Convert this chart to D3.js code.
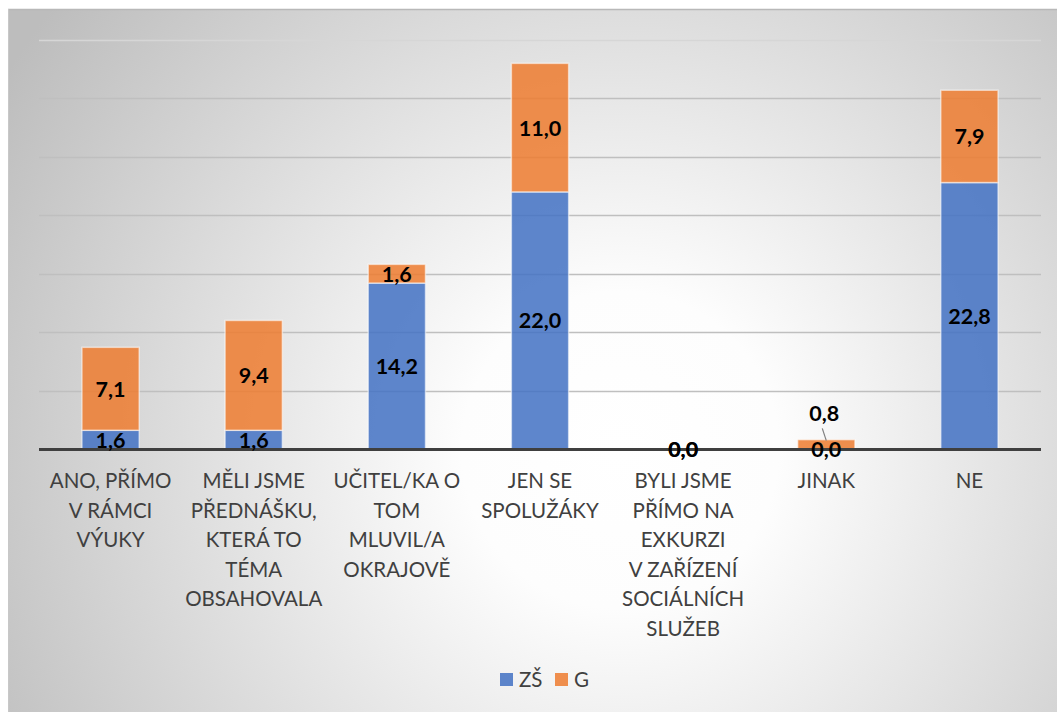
<!DOCTYPE html>
<html><head><meta charset="utf-8">
<script src="https://cdn.jsdelivr.net/npm/d3@7"></script>
<style>html,body{margin:0;padding:0;background:#fff;}svg{display:block;}</style>
</head><body>
<svg id="c" width="1057" height="712"></svg>
<script>
const categories = [
  ["ANO, PŘÍMO","V RÁMCI","VÝUKY"],
  ["MĚLI JSME","PŘEDNÁŠKU,","KTERÁ TO","TÉMA","OBSAHOVALA"],
  ["UČITEL/KA O","TOM","MLUVIL/A","OKRAJOVĚ"],
  ["JEN SE","SPOLUŽÁKY"],
  ["BYLI JSME","PŘÍMO NA","EXKURZI","V ZAŘÍZENÍ","SOCIÁLNÍCH","SLUŽEB"],
  ["JINAK"],
  ["NE"]
];
const seriesNames = ["ZŠ","G"];
const zs = [1.6, 1.6, 14.2, 22.0, 0.0, 0.0, 22.8];
const g  = [7.1, 9.4, 1.6, 11.0, 0.0, 0.8, 7.9];
const yTicks = [0,5,10,15,20,25,30,35];
const colors = ["#4472C4","#ED7D31"];

const svg = d3.select("#c");
const W = 1057, H = 712;
const defs = svg.append("defs");
const rg = defs.append("radialGradient").attr("id","bg")
  .attr("gradientUnits","userSpaceOnUse")
  .attr("cx",620).attr("cy",450).attr("r",720);
rg.append("stop").attr("offset","0%").attr("stop-color","#ffffff");
rg.append("stop").attr("offset","22%").attr("stop-color","#fdfdfd");
rg.append("stop").attr("offset","100%").attr("stop-color","#bdbdbd");

svg.append("rect").attr("x",8).attr("y",9).attr("width",W-8).attr("height",H-9)
  .attr("fill","url(#bg)");
svg.append("line").attr("x1",8).attr("x2",W).attr("y1",9.5).attr("y2",9.5)
  .attr("stroke","#b8b8b8").attr("stroke-width",1.5);
svg.append("line").attr("x1",8.5).attr("x2",8.5).attr("y1",9).attr("y2",H)
  .attr("stroke","#c8c8c8").attr("stroke-width",1);

const x = d3.scaleBand().domain(d3.range(categories.length)).range([39,1041]).paddingInner(0.6).paddingOuter(0.3);
const y = d3.scaleLinear().domain([0,35]).range([449,40]);

// gridlines
svg.append("g").selectAll("line").data(yTicks.filter(t=>t>0)).join("line")
  .attr("x1",39).attr("x2",1041)
  .attr("y1",d=>Math.round(y(d))+0.5).attr("y2",d=>Math.round(y(d))+0.5)
  .attr("stroke",d=>d===35?"#d6d6d6":"#bfbfbf").attr("stroke-width",1.5);

const stacked = d3.stack().keys([0,1]).value((d,k)=>d[k])(zs.map((v,i)=>[v,g[i]]));

const bw = x.bandwidth();
stacked.forEach((layer,k)=>{
  svg.append("g").selectAll("rect").data(layer).join("rect")
    .attr("x",(d,i)=>x(i)).attr("width",bw)
    .attr("y",d=>y(d[1])).attr("height",d=>y(d[0])-y(d[1]))
    .attr("fill",colors[k]).attr("fill-opacity",0.86)
    .attr("stroke","#ffffff").attr("stroke-opacity",0.55).attr("stroke-width",1.5);
});

// axis line
svg.append("line").attr("x1",39).attr("x2",1041).attr("y1",y(0)+0.5).attr("y2",y(0)+0.5)
  .attr("stroke","#3f3f3f").attr("stroke-width",3);

// data labels
const lab = svg.append("g").attr("font-family","Lato, 'Open Sans', sans-serif")
  .attr("font-weight","bold").attr("font-size",21.5).attr("fill","#000").attr("text-anchor","middle");
const fmt = v => v.toFixed(1).replace(".",",");
stacked.forEach((layer,k)=>{
  layer.forEach((d,i)=>{
    const v = d[1]-d[0];
    let cy = (y(d[0])+y(d[1]))/2;
    let cx = x(i)+bw/2;
    if (k===1 && v>0 && v<1) {
      const ly = cy - 31;
      svg.append("line").attr("x1",cx-4).attr("y1",ly+15).attr("x2",cx).attr("y2",y(d[1])+1)
        .attr("stroke","#7f7f7f").attr("stroke-width",1.2);
      cy = ly;
      cx = cx - 2;
    }
    lab.append("text").attr("x",cx).attr("y",cy+8).text(fmt(v));
  });
});

// category labels
const cl = svg.append("g").attr("font-family","Lato, 'Open Sans', sans-serif")
  .attr("font-size",20.5).attr("fill","#404040").attr("text-anchor","middle");
categories.forEach((lines,i)=>{
  const t = cl.append("text").attr("x",x(i)+bw/2).attr("y",488);
  lines.forEach((ln,j)=>t.append("tspan").attr("x",x(i)+bw/2).attr("y",488+j*29.5).text(ln));
});

// legend
const lg = svg.append("g").attr("font-family","Lato, 'Open Sans', sans-serif")
  .attr("font-size",20.5).attr("fill","#404040");
const legendX = [500,555];
seriesNames.forEach((s,k)=>{
  lg.append("rect").attr("x",legendX[k]).attr("y",673).attr("width",13).attr("height",13)
    .attr("fill",colors[k]).attr("fill-opacity",0.86);
  lg.append("text").attr("x",legendX[k]+19).attr("y",687).text(s);
});
</script>
</body></html>
